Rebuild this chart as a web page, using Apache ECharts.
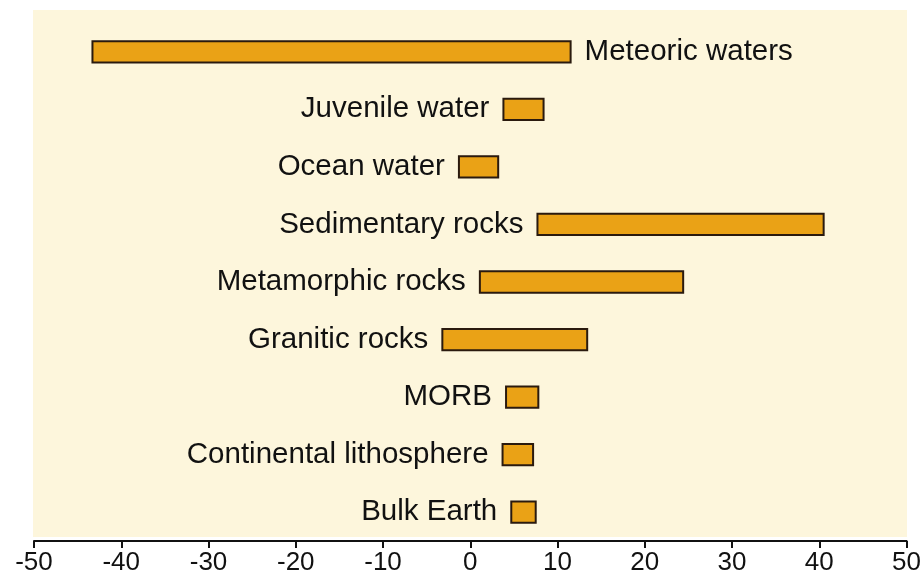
<!DOCTYPE html>
<html>
<head>
<meta charset="utf-8">
<script src="https://cdn.jsdelivr.net/npm/echarts@6/dist/echarts.min.js"></script>
<style>html,body{margin:0;padding:0;background:#fff}#c{width:924px;height:580px}</style>
</head>
<body>
<div id="c"></div>
<script>
var categories = ['Meteoric waters','Juvenile water','Ocean water','Sedimentary rocks','Metamorphic rocks','Granitic rocks','MORB','Continental lithosphere','Bulk Earth'];
var lows  = [-43.3, 3.8, -1.3, 7.7, 1.1, -3.2, 4.1, 3.7, 4.7];
var highs = [11.5, 8.4, 3.2, 40.5, 24.4, 13.4, 7.8, 7.2, 7.5];
var xTicks = [-50,-40,-30,-20,-10,0,10,20,30,40,50];

var chart = echarts.init(document.getElementById('c'), null, {renderer:'canvas'});
var data = categories.map(function(c,i){ return [lows[i], highs[i], i]; });
chart.setOption({
  backgroundColor: '#ffffff',
  animation: false,
  graphic: [{type:'rect', z:-10, silent:true, shape:{x:33,y:10,width:874,height:527}, style:{fill:'#fdf6dc'}}],
  grid: {left:34, right:17, top:23, bottom:39},
  xAxis: {
    type:'value', min:-50, max:50, interval:10,
    axisLine:{show:true, lineStyle:{color:'#111', width:2}},
    axisTick:{show:true, length:7, lineStyle:{color:'#111', width:2}},
    splitLine:{show:false},
    axisLabel:{color:'#111', fontSize:26, fontFamily:'Liberation Sans, Arial', margin:9,
      formatter:function(v){ return xTicks.indexOf(v)>=0 ? String(v) : ''; }}
  },
  yAxis: {type:'category', data:categories, inverse:true, show:false},
  series: [{
    type:'custom',
    data:data,
    encode:{x:[0,1], y:2},
    renderItem:function(params, api){
      var i = api.value(2);
      var s = api.coord([api.value(0), i]);
      var e = api.coord([api.value(1), i]);
      var h = api.size([0,1])[1]*0.37;
      var right = (i === 0);
      return {type:'group', children:[
        {type:'rect', shape:{x:s[0], y:s[1]-h/2, width:e[0]-s[0], height:h},
         style:{fill:'#eaa216', stroke:'#2a1a0e', lineWidth:2}},
        {type:'text', style:{text:categories[i], x: right ? e[0]+14 : s[0]-14, y:s[1],
          align: right ? 'left' : 'right', verticalAlign:'middle',
          fill:'#111', fontSize:29.5, fontFamily:'Liberation Sans, Arial'}}
      ]};
    }
  }]
});
</script>
</body>
</html>
